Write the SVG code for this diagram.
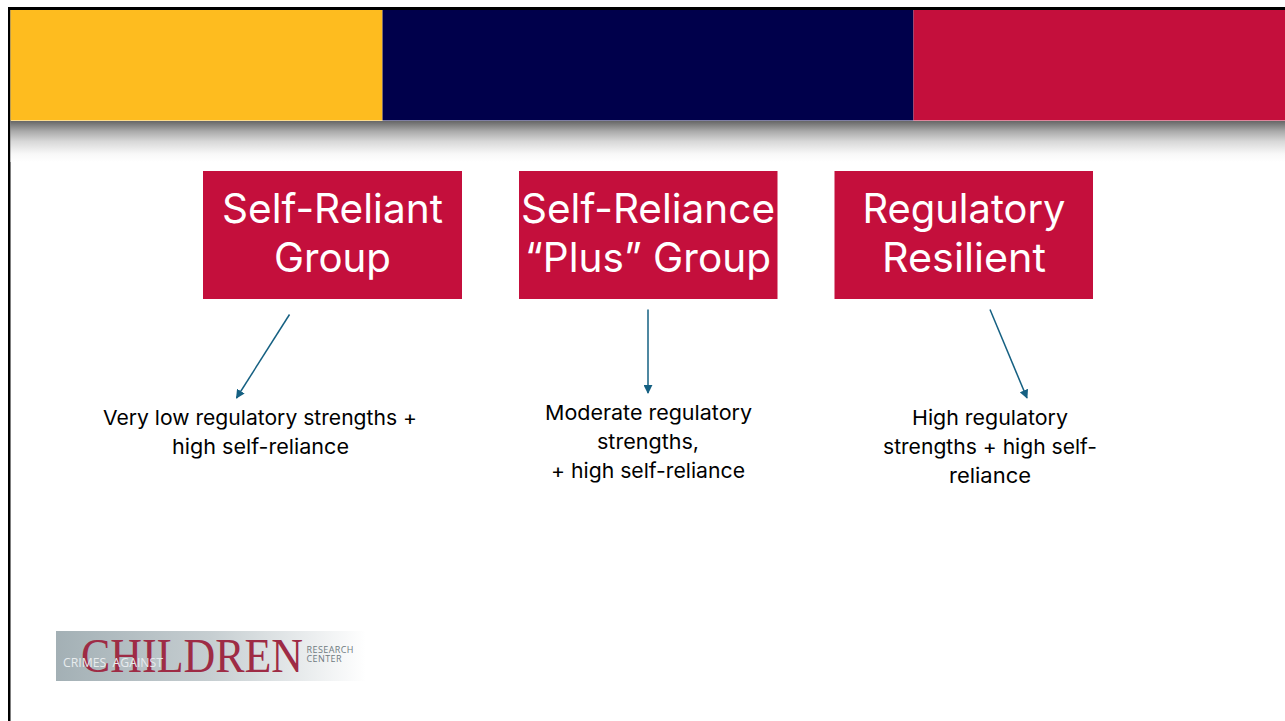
<svg xmlns="http://www.w3.org/2000/svg" width="1285" height="721" viewBox="0 0 1285 721">
<style>
.box{fill:#c40f3c}
.t{font-family:Inter,"Noto Sans",sans-serif;text-anchor:middle}
.h{font-size:40.500px;fill:#fff}
.s{font-size:20.500px;fill:#000}
.c{stroke:#156082;stroke-width:1.500;fill:none;marker-end:url(#a)}
</style>
<defs>
<marker id="a" viewBox="0 0 10 10" refX="9" refY="5" markerWidth="6" markerHeight="6" orient="auto"><path d="M0 0L10 5L0 10Z" fill="#156082"/></marker>
<linearGradient id="sh" x1="0" y1="0" x2="0" y2="1"><stop offset="0" stop-color="#666"/><stop offset=".25" stop-color="#aaa"/><stop offset=".5" stop-color="#d8d8d8"/><stop offset=".8" stop-color="#f8f8f8"/><stop offset="1" stop-color="#fff"/></linearGradient>
<linearGradient id="lg" x1="0" y1="0" x2="1" y2="0"><stop offset="0" stop-color="#a3b0b5"/><stop offset=".5" stop-color="#c6ced1"/><stop offset="1" stop-color="#fff"/></linearGradient>
</defs>
<rect width="1285" height="721" fill="#fff"/>
<g id="frame">
<rect x="8" y="7" width="1277" height="3" fill="#000"/>
<rect x="8" y="7" width="2.500" height="714" fill="#000"/>
</g>
<g id="banner">
<rect x="10.500" y="121" width="1274.500" height="41" fill="url(#sh)"/>
<rect x="10.500" y="10" width="372" height="110.500" fill="#febc1f"/>
<rect x="382.500" y="10" width="531" height="110.500" fill="#00004b"/>
<rect x="913.500" y="10" width="371.500" height="110.500" fill="#c40f3c"/>
</g>
<g id="node-self-reliant">
<rect class="box" x="203" y="171" width="259" height="128"/>
<text class="t h" x="332.500" y="223" textLength="221" lengthAdjust="spacingAndGlyphs">Self-Reliant</text>
<text class="t h" x="332.500" y="272" textLength="117" lengthAdjust="spacingAndGlyphs">Group</text>
</g>
<g id="node-self-reliance-plus">
<rect class="box" x="519" y="171" width="258.500" height="128"/>
<text class="t h" x="648" y="223" textLength="254" lengthAdjust="spacingAndGlyphs">Self-Reliance</text>
<text class="t h" x="648" y="272" textLength="246" lengthAdjust="spacingAndGlyphs">“Plus” Group</text>
</g>
<g id="node-regulatory-resilient">
<rect class="box" x="834.500" y="171" width="258.500" height="128"/>
<text class="t h" x="964" y="223" textLength="203" lengthAdjust="spacingAndGlyphs">Regulatory</text>
<text class="t h" x="964" y="272" textLength="164" lengthAdjust="spacingAndGlyphs">Resilient</text>
</g>
<g id="connectors">
<line class="c" x1="289.500" y1="314.500" x2="236.500" y2="398"/>
<line class="c" x1="648" y1="309.500" x2="648" y2="393"/>
<line class="c" x1="990" y1="309.500" x2="1027" y2="398"/>
</g>
<g id="label-1">
<text class="t s" x="260" y="425" textLength="314" lengthAdjust="spacingAndGlyphs">Very low regulatory strengths +</text>
<text class="t s" x="260.500" y="454" textLength="177" lengthAdjust="spacingAndGlyphs">high self-reliance</text>
</g>
<g id="label-2">
<text class="t s" x="648.500" y="420" textLength="207" lengthAdjust="spacingAndGlyphs">Moderate regulatory</text>
<text class="t s" x="648" y="449" textLength="102" lengthAdjust="spacingAndGlyphs">strengths,</text>
<text class="t s" x="648" y="478" textLength="194" lengthAdjust="spacingAndGlyphs">+ high self-reliance</text>
</g>
<g id="label-3">
<text class="t s" x="990" y="425" textLength="156" lengthAdjust="spacingAndGlyphs">High regulatory</text>
<text class="t s" x="990" y="454" textLength="214" lengthAdjust="spacingAndGlyphs">strengths + high self-</text>
<text class="t s" x="990" y="483" textLength="82" lengthAdjust="spacingAndGlyphs">reliance</text>
</g>
<g id="logo">
<rect x="56" y="631" width="310" height="50" fill="url(#lg)"/>
<text x="81" y="672" font-family="Liberation Serif,serif" font-size="48" fill="#9e2b45" textLength="222" lengthAdjust="spacingAndGlyphs">CHILDREN</text>
<text x="63" y="666.500" font-family="Open Sans,sans-serif" font-size="13" fill="#e8ecee" textLength="100" lengthAdjust="spacingAndGlyphs" xml:space="preserve">CRIMES  AGAINST</text>
<text x="306.500" y="652.500" font-family="Open Sans,sans-serif" font-size="9" fill="#6f7a80" textLength="47">RESEARCH</text>
<text x="306.500" y="661.500" font-family="Open Sans,sans-serif" font-size="9" fill="#6f7a80" textLength="35">CENTER</text>
</g>
</svg>
